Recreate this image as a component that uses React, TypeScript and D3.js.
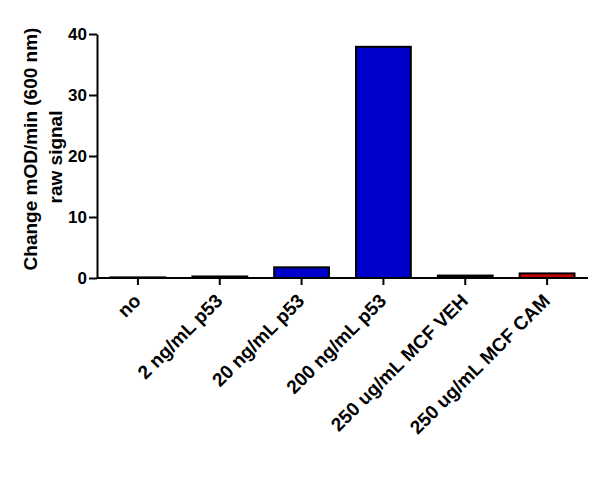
import * as d3 from "d3";
import * as React from "react";
import { useEffect, useRef } from "react";

const categories = [
  "no",
  "2 ng/mL p53",
  "20 ng/mL p53",
  "200 ng/mL p53",
  "250 ug/mL MCF VEH",
  "250 ug/mL MCF CAM",
];
const values = [0.1, 0.25, 1.75, 37.9, 0.4, 0.75];
const barColors = ["#000000", "#000000", "#0000cc", "#0000cc", "#000000", "#cc0000"];
const yTicks = [0, 10, 20, 30, 40];
const yTitle = ["Change mOD/min (600 nm)", "raw signal"];

const width = 600;
const height = 500;
const left = 97;
const right = 588;
const top = 34;
const bottom = 278;
const font = "Arial, 'Liberation Sans', sans-serif";

export default function App() {
  const ref = useRef<SVGSVGElement>(null);

  useEffect(() => {
    const svg = d3.select(ref.current);
    svg.selectAll("*").remove();

    const x = d3
      .scaleBand()
      .domain(categories)
      .range([left, right])
      .paddingInner(0.33)
      .paddingOuter(0.165);
    const y = d3.scaleLinear().domain([0, 40]).range([bottom, top]);

    // bars
    svg
      .append("g")
      .selectAll("rect")
      .data(values)
      .enter()
      .append("rect")
      .attr("x", (d, i) => x(categories[i])!)
      .attr("width", x.bandwidth())
      .attr("y", (d) => y(d))
      .attr("height", (d) => y(0) - y(d))
      .attr("fill", (d, i) => barColors[i])
      .attr("stroke", "#000")
      .attr("stroke-width", 2);

    // y axis
    const gy = svg
      .append("g")
      .attr("transform", `translate(${left},0)`)
      .call(d3.axisLeft(y).tickValues(yTicks).tickSize(8).tickSizeOuter(0).tickPadding(2));
    gy.selectAll("path, line").attr("stroke", "#000").attr("stroke-width", 2);
    gy.selectAll("text")
      .attr("font-family", font)
      .attr("font-weight", "bold")
      .attr("font-size", 17)
      .attr("fill", "#000");

    // x axis
    const gx = svg
      .append("g")
      .attr("transform", `translate(0,${bottom})`)
      .call(d3.axisBottom(x).tickSize(7).tickSizeOuter(0));
    gx.select("path").attr("d", `M${left},0H${right}`);
    gx.selectAll("path, line").attr("stroke", "#000").attr("stroke-width", 2);
    gx.selectAll("text")
      .attr("font-family", font)
      .attr("font-weight", "bold")
      .attr("font-size", 19)
      .attr("fill", "#000")
      .attr("text-anchor", "end")
      .attr("dy", null)
      .attr("y", null)
      .attr("transform", "translate(4,24) rotate(-45)");

    // y title, two lines
    svg
      .selectAll("text.ytitle")
      .data(yTitle)
      .enter()
      .append("text")
      .attr("class", "ytitle")
      .attr("font-family", font)
      .attr("font-weight", "bold")
      .attr("font-size", 19)
      .attr("text-anchor", "middle")
      .attr("fill", "#000")
      .attr("transform", (d, i) => (i === 0 ? "translate(37,149) rotate(-90)" : "translate(62,157) rotate(-90)"))
      .text((d) => d);
  }, []);

  return (
    <svg
      ref={ref}
      width={width}
      height={height}
      style={{ position: "absolute", left: 0, top: 0, background: "#fff" }}
    />
  );
}
